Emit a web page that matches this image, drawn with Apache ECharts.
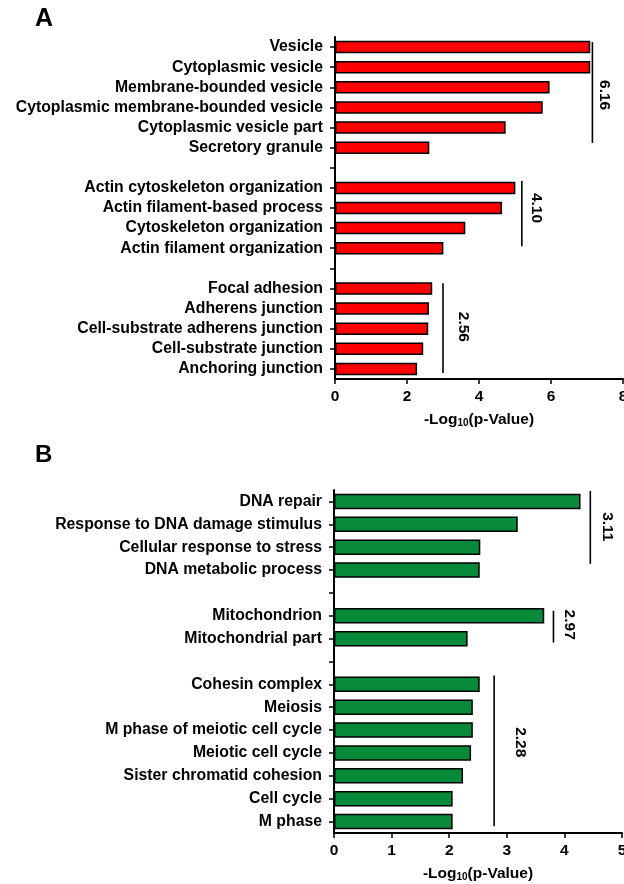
<!DOCTYPE html>
<html>
<head>
<meta charset="utf-8">
<script src="https://cdn.jsdelivr.net/npm/echarts@6/dist/echarts.min.js"></script>
<style>
html, body { margin: 0; padding: 0; background: #fff; }
#chart { width: 624px; height: 884px; }
</style>
</head>
<body>
<div id="chart"></div>
<script>
// Panel A: GO terms (empty names are spacer rows between term groups)
const termsA = [
  'Vesicle', 'Cytoplasmic vesicle', 'Membrane-bounded vesicle',
  'Cytoplasmic membrane-bounded vesicle', 'Cytoplasmic vesicle part', 'Secretory granule',
  '',
  'Actin cytoskeleton organization', 'Actin filament-based process',
  'Cytoskeleton organization', 'Actin filament organization',
  ' ',
  'Focal adhesion', 'Adherens junction', 'Cell-substrate adherens junction',
  'Cell-substrate junction', 'Anchoring junction'
];
const valuesA = [7.09, 7.09, 5.96, 5.77, 4.74, 2.62, null,
  5.01, 4.64, 3.62, 3.01, null,
  2.70, 2.61, 2.59, 2.45, 2.28];
const ticksA = [0, 2, 4, 6, 8];
// group brackets: [x, fromRow, toRow, labelX, labelRow]
const bracketsA = [
  [7.15, -0.25, 4.77, 7.48, 2.39],
  [5.19, 6.66, 9.90, 5.60, 8.00],
  [3.00, 11.74, 16.20, 3.55, 13.91]
];
const bracketLabelsA = ['6.16', '4.10', '2.56'];

// Panel B
const termsB = [
  'DNA repair', 'Response to DNA damage stimulus', 'Cellular response to stress', 'DNA metabolic process',
  '',
  'Mitochondrion', 'Mitochondrial part',
  ' ',
  'Cohesin complex', 'Meiosis', 'M phase of meiotic cell cycle', 'Meiotic cell cycle',
  'Sister chromatid cohesion', 'Cell cycle', 'M phase'
];
const valuesB = [4.28, 3.19, 2.54, 2.53, null,
  3.65, 2.32, null,
  2.53, 2.41, 2.41, 2.38, 2.24, 2.06, 2.06];
const ticksB = [0, 1, 2, 3, 4, 5];
const bracketsB = [
  [4.45, -0.46, 2.73, 4.75, 1.11],
  [3.81, 4.78, 6.17, 4.09, 5.39],
  [2.78, 7.61, 14.20, 3.23, 10.53]
];
const bracketLabelsB = ['3.11', '2.97', '2.28'];

const FONT = "'Liberation Sans', Arial, Helvetica, sans-serif";
const FS = 15.8;

const chart = echarts.init(document.getElementById('chart'), null, { renderer: 'canvas' });

function valueAxis(gridIndex, ticks, nameGap) {
  return {
    type: 'value', gridIndex,
    min: ticks[0], max: ticks[ticks.length - 1], interval: ticks[1] - ticks[0],
    name: '-Log{s|10}(p-Value)', nameLocation: 'middle', nameGap,
    nameTextStyle: {
      fontFamily: FONT, fontSize: 15.5, fontWeight: 'bold', color: '#000',
      rich: { s: { fontFamily: FONT, fontSize: 10, fontWeight: 'bold', color: '#000', verticalAlign: 'bottom', padding: [6, 0, 0, 0] } }
    },
    axisLine: { show: true, onZero: false, lineStyle: { color: '#000', width: 2 } },
    axisTick: { show: true, length: 5, lineStyle: { color: '#000', width: 1.5 } },
    axisLabel: { fontFamily: FONT, fontSize: 15.5, fontWeight: 'bold', color: '#000', margin: 10, showMaxLabel: true, showMinLabel: true },
    splitLine: { show: false }
  };
}

function categoryAxis(gridIndex, terms) {
  return {
    type: 'category', gridIndex, data: terms, inverse: true,
    axisLine: { show: true, onZero: false, lineStyle: { color: '#000', width: 2 } },
    axisTick: { show: true, alignWithLabel: true, interval: 0, length: 5, lineStyle: { color: '#000', width: 1.5 } },
    axisLabel: { interval: 0, fontFamily: FONT, fontSize: FS, fontWeight: 'bold', color: '#000', margin: 12 }
  };
}

function rowAxis(gridIndex, n) {
  // hidden row-index axis used to place the group brackets
  return { type: 'value', gridIndex, min: -0.5, max: n - 0.5, inverse: true, show: false,
    axisLine: { onZero: false } };
}

function bracketSeries(xAxisIndex, yAxisIndex, data, labels) {
  return {
    type: 'custom', xAxisIndex, yAxisIndex, clip: false, silent: true,
    data,
    encode: { x: 0, y: 1 },
    renderItem: function (params, api) {
      const x = api.value(0);
      const p0 = api.coord([x, api.value(1)]);
      const p1 = api.coord([x, api.value(2)]);
      const pt = api.coord([api.value(3), api.value(4)]);
      return {
        type: 'group',
        children: [
          { type: 'line', shape: { x1: p0[0], y1: p0[1], x2: p1[0], y2: p1[1] },
            style: { stroke: '#000', lineWidth: 1.6 } },
          { type: 'text', x: pt[0], y: pt[1], rotation: -Math.PI / 2,
            style: { text: labels[params.dataIndex], fontFamily: FONT, fontSize: 15.5, fontWeight: 'bold',
              fill: '#000', align: 'center', verticalAlign: 'middle' } }
        ]
      };
    }
  };
}

chart.setOption({
  animation: false,
  backgroundColor: '#fff',
  textStyle: { fontFamily: FONT },
  graphic: [
    { type: 'text', x: 35, y: 19, style: { text: 'A', fontFamily: FONT, fontSize: 25, fontWeight: 'bold', fill: '#000', verticalAlign: 'middle' } },
    { type: 'text', x: 35, y: 455.5, style: { text: 'B', fontFamily: FONT, fontSize: 24, fontWeight: 'bold', fill: '#000', verticalAlign: 'middle' } }
  ],
  grid: [
    { left: 335, right: 1, top: 37, height: 342, containLabel: false, outerBoundsMode: 'none' },
    { left: 334, right: 2, top: 490, height: 343, containLabel: false, outerBoundsMode: 'none' }
  ],
  xAxis: [
    valueAxis(0, ticksA, 33),
    valueAxis(1, ticksB, 33)
  ],
  yAxis: [
    categoryAxis(0, termsA),
    categoryAxis(1, termsB),
    rowAxis(0, termsA.length),
    rowAxis(1, termsB.length)
  ],
  series: [
    {
      type: 'bar', xAxisIndex: 0, yAxisIndex: 0, data: valuesA, barWidth: 12.5,
      itemStyle: { color: '#ff0000', borderColor: '#000', borderWidth: 1.5 }
    },
    {
      type: 'bar', xAxisIndex: 1, yAxisIndex: 1, data: valuesB, barWidth: 15.5,
      itemStyle: { color: '#078a3a', borderColor: '#000', borderWidth: 1.5 }
    },
    bracketSeries(0, 2, bracketsA, bracketLabelsA),
    bracketSeries(1, 3, bracketsB, bracketLabelsB)
  ]
});
</script>
</body>
</html>
